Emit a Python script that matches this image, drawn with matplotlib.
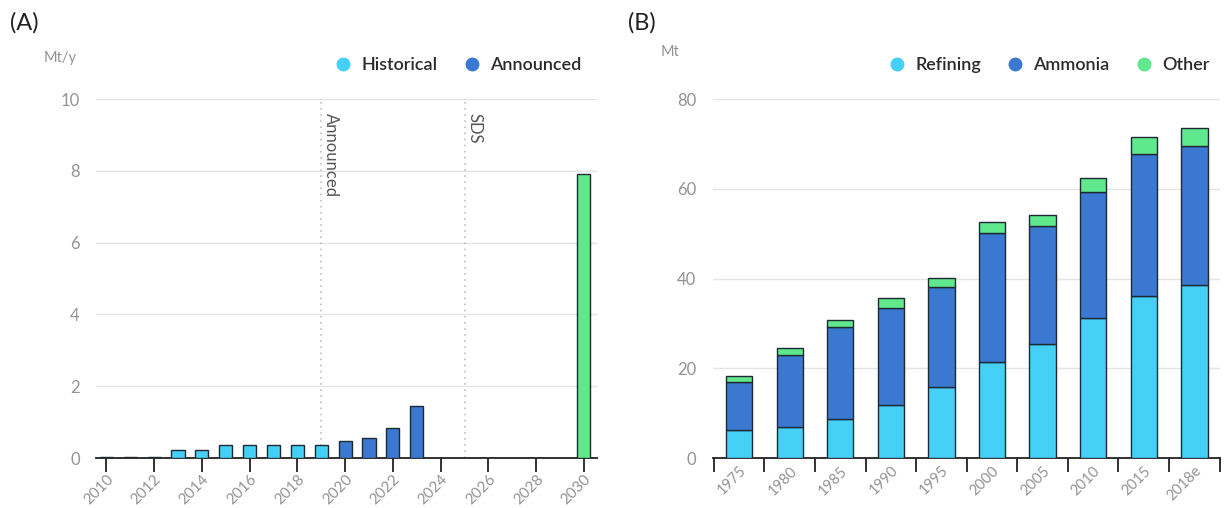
import matplotlib
matplotlib.use("Agg")
import matplotlib.pyplot as plt
from matplotlib.lines import Line2D

plt.rcParams['font.family'] = ['Lato', 'DejaVu Sans']

# Panel A: electrolysis capacity additions (Mt/y)
years_a = list(range(2010, 2031))
values_a = [0.03, 0.03, 0.03, 0.21, 0.21, 0.36, 0.36, 0.36, 0.36, 0.36,
            0.47, 0.55, 0.83, 1.46, 0, 0, 0, 0, 0, 0, 7.9]
status_a = (['Historical'] * 10 + ['Announced'] * 4 + ['None'] * 6 + ['SDS'])
xticks_a = list(range(2010, 2031, 2))
markers_a = [(2019, 'Announced'), (2025, 'SDS')]

# Panel B: hydrogen demand by sector (Mt)
cats_b = ['1975', '1980', '1985', '1990', '1995', '2000', '2005', '2010', '2015', '2018e']
refining = [6.3, 6.9, 8.6, 11.9, 15.8, 21.4, 25.3, 31.2, 36.2, 38.5]
ammonia_top = [17.0, 23.0, 29.2, 33.5, 38.0, 50.1, 51.6, 59.2, 67.7, 69.5]
other_top = [18.3, 24.5, 30.7, 35.7, 40.1, 52.7, 54.2, 62.5, 71.5, 73.6]
ammonia = [a - r for a, r in zip(ammonia_top, refining)]
other = [o - a for o, a in zip(other_top, ammonia_top)]

C_HIST = '#45d0f7'
C_ANN = '#3b78d1'
C_OTHER = '#5fe88c'
EDGE = '#1e2a33'
GRID = '#e4e4e4'
TICKC = '#939393'
colors_a = {'Historical': C_HIST, 'Announced': C_ANN, 'SDS': C_OTHER, 'None': C_HIST}

fig = plt.figure(figsize=(12.27, 5.08), dpi=100)
axA = fig.add_axes([0.0785, 0.0984, 0.4081, 0.7067])
axB = fig.add_axes([0.581, 0.0984, 0.413, 0.7067])


def style(ax):
    for s in ['top', 'right', 'left']:
        ax.spines[s].set_visible(False)
    ax.spines['bottom'].set_color('#222222')
    ax.spines['bottom'].set_linewidth(1.3)
    ax.yaxis.grid(True, color=GRID, lw=1)
    ax.set_axisbelow(True)
    ax.tick_params(axis='y', length=0, labelcolor=TICKC, labelsize=12, pad=12)
    ax.tick_params(axis='x', length=10, width=1.3, color='#222222',
                   labelcolor=TICKC, labelsize=11, pad=0)


# ---- Panel A ----
style(axA)
for y, v, s in zip(years_a, values_a, status_a):
    if v > 0:
        axA.bar(y, v, width=0.55, color=colors_a[s], edgecolor=EDGE, linewidth=1.0, zorder=3)
axA.set_xlim(2009.58, 2030.55)
axA.set_ylim(0, 10)
axA.set_yticks(range(0, 11, 2))
axA.set_xticks(xticks_a)
axA.set_xticklabels([str(t) for t in xticks_a], rotation=45, ha='right',
                    rotation_mode='anchor')
for xv, label in markers_a:
    axA.axvline(xv, ymin=0, ymax=1, color='#b5b5b5', lw=1.1, ls=(0, (1, 3)), zorder=1)
    axA.text(xv + 0.08, 9.62, label, rotation=-90, ha='left', va='top',
             fontsize=12, color='#555555')
axA.text(-0.04, 1.115, 'Mt/y', transform=axA.transAxes, ha='right', va='center',
         fontsize=10.5, color=TICKC)
fig.text(0.008, 0.955, '(A)', fontsize=17, color='#222222', va='center')
hA = [Line2D([], [], ls='none', marker='o', ms=9, color=C_HIST, label='Historical'),
      Line2D([], [], ls='none', marker='o', ms=9, color=C_ANN, label='Announced')]
legA = axA.legend(handles=hA, loc='center right', bbox_to_anchor=(1.0, 1.095),
                  ncol=2, frameon=False, handletextpad=0.5, columnspacing=1.4,
                  handlelength=1.0, prop={'size': 13, 'weight': 'semibold'})
for t in legA.get_texts():
    t.set_color('#2b2b2b')

# ---- Panel B ----
style(axB)
xb = list(range(len(cats_b)))
axB.bar(xb, refining, width=0.52, color=C_HIST, edgecolor=EDGE, linewidth=1.0, zorder=3)
axB.bar(xb, ammonia, bottom=refining, width=0.52, color=C_ANN, edgecolor=EDGE,
        linewidth=1.0, zorder=3)
axB.bar(xb, other, bottom=ammonia_top, width=0.52, color=C_OTHER, edgecolor=EDGE,
        linewidth=1.0, zorder=3)
axB.set_xlim(-0.52, 9.5)
axB.set_ylim(0, 80)
axB.set_yticks(range(0, 81, 20))
axB.set_xticks([i - 0.5 for i in range(len(cats_b) + 1)], minor=False)
axB.set_xticklabels([''] * (len(cats_b) + 1))
axB.set_xticks(xb, minor=True)
axB.set_xticklabels(cats_b, minor=True, rotation=45, ha='right', rotation_mode='anchor')
axB.tick_params(axis='x', which='minor', length=0, labelcolor=TICKC, labelsize=10.6, pad=4)
axB.text(-0.065, 1.13, 'Mt', transform=axB.transAxes, ha='right', va='center',
         fontsize=10.5, color=TICKC)
fig.text(0.512, 0.955, '(B)', fontsize=17, color='#222222', va='center')
hB = [Line2D([], [], ls='none', marker='o', ms=9, color=C_HIST, label='Refining'),
      Line2D([], [], ls='none', marker='o', ms=9, color=C_ANN, label='Ammonia'),
      Line2D([], [], ls='none', marker='o', ms=9, color=C_OTHER, label='Other')]
legB = axB.legend(handles=hB, loc='center right', bbox_to_anchor=(1.012, 1.095),
                  ncol=3, frameon=False, handletextpad=0.5, columnspacing=1.4,
                  handlelength=1.0, prop={'size': 13, 'weight': 'semibold'})
for t in legB.get_texts():
    t.set_color('#2b2b2b')

fig.savefig('out.png', dpi=100)
